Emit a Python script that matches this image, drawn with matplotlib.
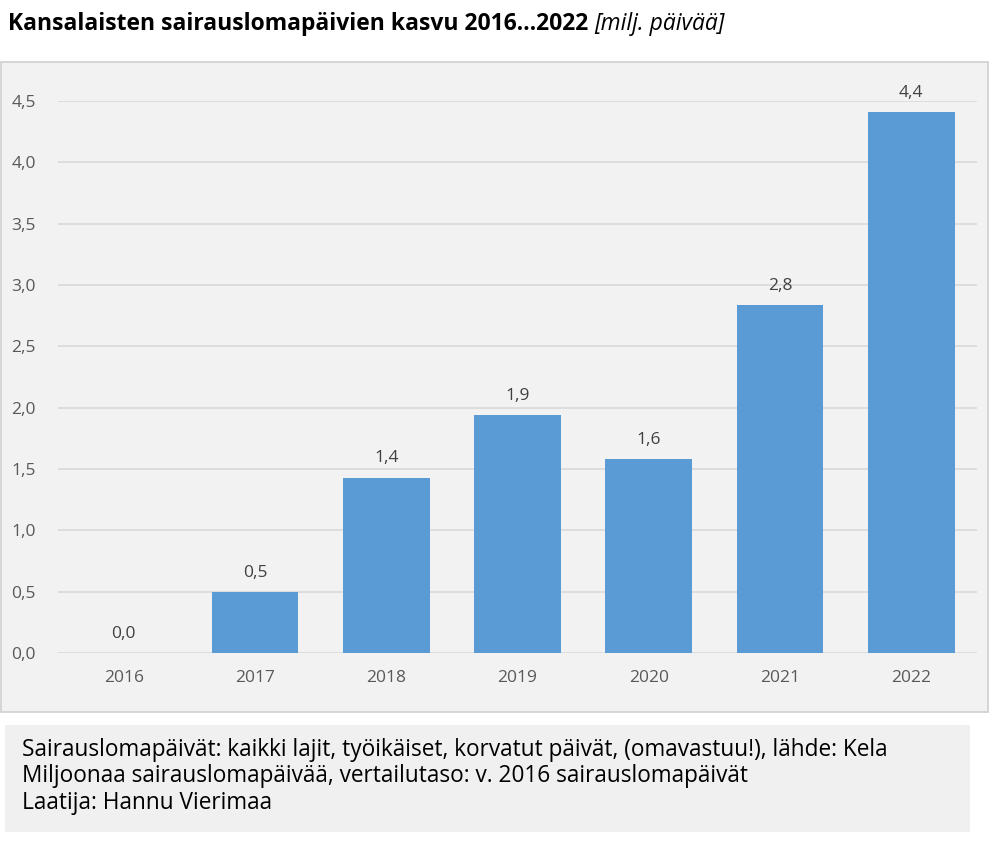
import matplotlib.pyplot as plt
from matplotlib.patches import Rectangle

years = ["2016", "2017", "2018", "2019", "2020", "2021", "2022"]
growth = [0.0, 0.5, 1.43, 1.94, 1.58, 2.84, 4.41]
labels = ["0,0", "0,5", "1,4", "1,9", "1,6", "2,8", "4,4"]
yticks = [0.0, 0.5, 1.0, 1.5, 2.0, 2.5, 3.0, 3.5, 4.0, 4.5]

title_bold = "Kansalaisten sairauslomapäivien kasvu 2016…2022 "
title_unit = "[milj. päivää]"
notes = [
    "Sairauslomapäivät: kaikki lajit, työikäiset, korvatut päivät, (omavastuu!), lähde: Kela",
    "Miljoonaa sairauslomapäivää, vertailutaso: v. 2016 sairauslomapäivät",
    "Laatija: Hannu Vierimaa",
]

plt.rcParams['font.family'] = ['Open Sans', 'DejaVu Sans']

W, H = 1001, 842
fig = plt.figure(figsize=(W / 100, H / 100), dpi=100)
fig.patch.set_facecolor("white")

# chart area background
fig.patches.append(Rectangle((0.5 / W, 1 - 712 / H), 987 / W, 650 / H,
                             transform=fig.transFigure, facecolor="#f2f2f2",
                             edgecolor="#d0d0d0", linewidth=1.2, zorder=-2))
# notes box
fig.patches.append(Rectangle((5 / W, 1 - 832 / H), 965 / W, 107 / H,
                             transform=fig.transFigure, facecolor="#f0f0f0",
                             edgecolor="none", zorder=-2))

ax = fig.add_axes([58 / W, 1 - 653 / H, 919 / W, 552 / H])
ax.set_zorder(1)
ax.set_facecolor("none")
x = list(range(len(years)))
ax.bar(x, growth, width=0.66, color="#5b9bd5", zorder=3)
ax.set_xlim(-0.5, len(years) - 0.5)
ax.set_ylim(0, 4.5)
ax.set_yticks(yticks)
ax.set_yticklabels([f"{t:.1f}".replace(".", ",") for t in yticks])
ax.set_xticks(x)
ax.set_xticklabels(years)
ax.tick_params(length=0, labelsize=12.5, colors="#595959", pad=12)
ax.tick_params(axis="y", pad=16)
ax.grid(axis="y", color="#d9d9d9", linewidth=1.2, zorder=0)
for s in ax.spines.values():
    s.set_visible(False)

for xi, v, lab in zip(x, growth, labels):
    ax.annotate(lab, (xi, v), xytext=(0, 8), textcoords="offset points",
                ha="center", va="bottom", fontsize=12.5, color="#404040",
                annotation_clip=False)

t1 = fig.text(8 / W, 1 - 24 / H, title_bold, fontsize=16.5, fontweight="bold",
              va="center", ha="left", color="black")
fig.canvas.draw()
bb = t1.get_window_extent()
fig.text(bb.x1 / W, 1 - 24 / H, title_unit, fontsize=16.5, style="italic",
         va="center", ha="left", color="black")

for i, line in enumerate(notes):
    fig.text(22 / W, 1 - (750 + 26.5 * i) / H, line, fontsize=16.3,
             va="center", ha="left", color="black")

fig.savefig("out.png", dpi=100)
